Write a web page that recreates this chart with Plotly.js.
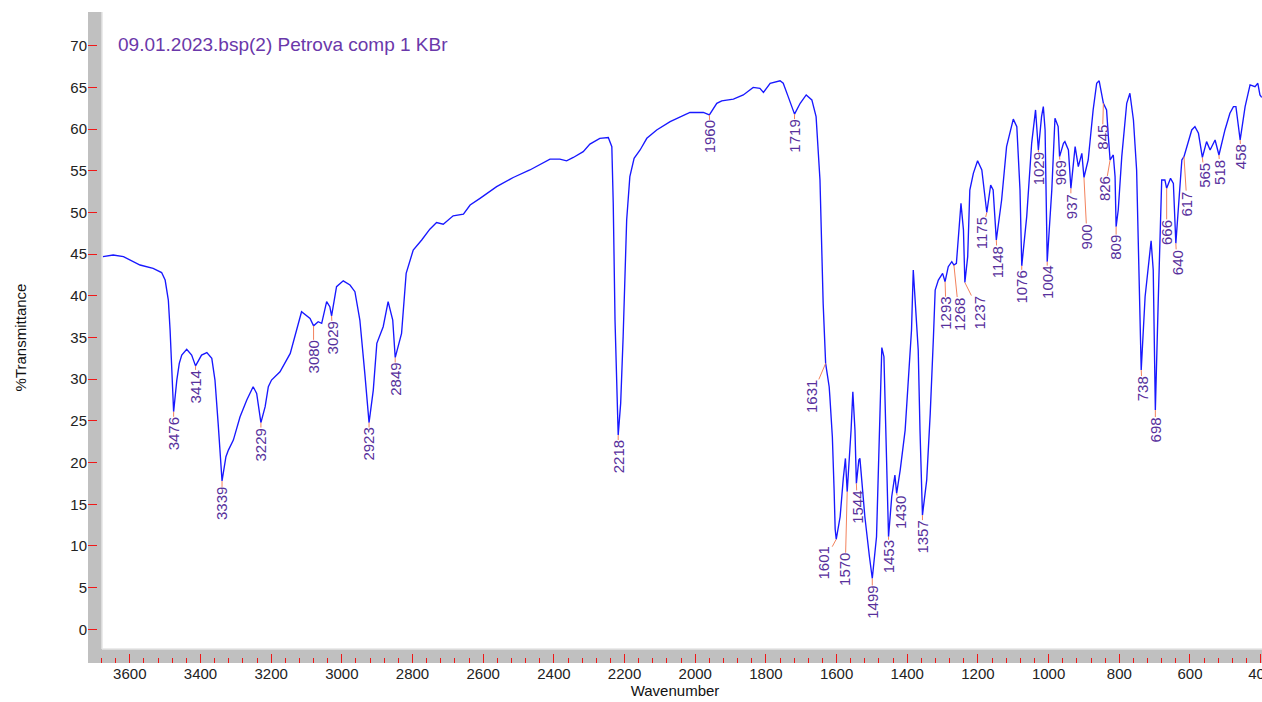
<!DOCTYPE html>
<html>
<head>
<meta charset="utf-8">
<script src="https://cdn.plot.ly/plotly-3.0.1.min.js"></script>
<style>html,body{margin:0;padding:0;background:#fff;}#chart{width:1262px;height:702px;}</style>
</head>
<body>
<div id="chart"></div>
<script>
// ---- data ----
const wavenumber = [3676,3647,3618,3571,3534,3510,3500,3491,3486,3479,3476,3467,3460,3453,3439,3425,3414,3397,3382,3368,3359,3350,3343,3339,3328,3321,3307,3288,3269,3251,3241,3234,3229,3217,3208,3199,3175,3146,3114,3090,3080,3067,3057,3043,3034,3029,3015,2996,2977,2963,2949,2935,2923,2911,2901,2883,2869,2856,2849,2831,2818,2798,2774,2751,2732,2713,2685,2656,2637,2609,2562,2515,2468,2411,2383,2364,2345,2317,2298,2270,2246,2236,2232,2227,2222,2218,2211,2204,2194,2185,2173,2156,2137,2109,2071,2015,1977,1960,1939,1925,1892,1864,1836,1817,1807,1788,1760,1751,1737,1719,1703,1686,1670,1658,1647,1638,1631,1621,1619,1612,1607,1604,1601,1590,1581,1575,1570,1564,1559,1554,1548,1544,1537,1534,1529,1520,1507,1499,1487,1479,1472,1466,1460,1456,1453,1444,1435,1430,1420,1406,1397,1388,1383,1369,1364,1357,1345,1335,1326,1321,1312,1300,1293,1284,1274,1268,1261,1253,1248,1241,1237,1229,1223,1213,1201,1189,1180,1175,1164,1157,1148,1133,1119,1100,1090,1081,1076,1062,1048,1037,1029,1020,1015,1010,1007,1004,991,982,973,969,958,954,944,937,925,916,906,900,888,874,864,857,845,836,831,826,817,812,809,803,793,779,770,760,751,743,738,727,718,710,704,698,690,680,671,666,655,647,640,630,623,617,605,595,586,576,565,553,543,529,518,501,487,477,470,458,444,430,416,408,402,397];
const transmittance = [44.7,44.9,44.7,43.7,43.3,42.8,41.9,39.5,35.9,29.5,26.1,29.9,31.9,32.9,33.6,32.9,31.6,32.9,33.2,32.5,29.9,24.7,20.7,17.8,20.7,21.5,22.7,25.5,27.5,29.1,28.3,26.3,24.8,26.7,29.1,29.9,30.9,33.1,38.1,37.3,36.4,36.9,36.7,39.3,38.7,37.6,41.1,41.8,41.3,40.5,37.1,30.7,24.8,28.7,34.3,36.3,39.3,37.1,32.6,35.5,42.7,45.5,46.7,48.0,48.8,48.6,49.6,49.8,50.9,51.7,53.1,54.2,55.1,56.4,56.4,56.2,56.6,57.3,58.2,58.9,59.0,57.9,51.1,37.1,29.9,23.3,27.1,35.1,49.1,54.3,56.5,57.5,58.9,59.9,60.9,62.0,62.0,61.7,63.1,63.4,63.6,64.1,65.0,64.9,64.4,65.5,65.8,65.5,63.9,61.8,63.1,64.1,63.5,61.5,53.9,39.1,31.9,29.1,27.9,23.1,16.7,12.0,10.8,13.5,18.1,20.5,16.5,19.9,23.9,28.5,23.9,17.5,20.3,20.5,17.9,13.5,8.7,6.1,11.1,23.9,33.8,32.7,23.9,17.1,11.1,15.9,18.5,16.3,19.1,23.9,30.7,35.9,43.1,33.5,23.9,13.7,17.9,25.9,35.0,40.7,41.9,42.7,41.7,43.5,44.1,43.7,43.9,47.9,51.1,47.9,41.6,44.7,52.7,54.7,56.2,55.1,51.9,50.0,53.3,52.7,46.7,51.5,57.9,61.2,60.3,52.7,43.6,49.5,58.3,62.3,57.5,61.5,62.7,59.9,52.0,44.1,52.7,61.3,60.3,56.7,58.3,58.5,57.5,52.9,57.9,55.5,57.1,54.2,56.3,62.3,65.5,65.8,63.1,62.3,59.1,56.3,56.9,54.3,48.3,50.3,56.7,63.1,64.3,61.1,55.1,39.5,31.1,39.9,43.1,46.6,43.1,26.3,39.1,53.9,53.9,52.9,54.1,53.5,46.3,52.3,56.3,56.7,58.3,59.9,60.3,59.5,56.6,58.5,57.5,58.7,56.9,59.9,61.9,62.7,62.7,58.7,62.7,65.3,65.1,65.5,64.1,63.8];
const peakWavenumbers = [3476,3414,3339,3229,3080,3029,2923,2849,2218,1960,1719,1631,1601,1570,1544,1499,1453,1430,1357,1293,1268,1237,1175,1148,1076,1029,1004,969,937,900,845,826,809,738,698,666,640,617,565,518,458];
const xTickValues = [3600,3400,3200,3000,2800,2600,2400,2200,2000,1800,1600,1400,1200,1000,800,600,400];
const yTickValues = [0,5,10,15,20,25,30,35,40,45,50,55,60,65,70];
const chartTitle = "09.01.2023.bsp(2) Petrova comp 1 KBr";

// ---- styling (label placement in pixels relative to each peak) ----
const labelOffset = {3476:[0,22],3414:[0,21],3339:[0,23],3229:[0,22],3080:[0,31],3029:[1,22],2923:[0,22],2849:[0,22],2218:[0,22],1960:[1,22],1719:[0,22],1631:[-14,33],1601:[-13,24],1570:[-2,78],1544:[1,24],1499:[0,24],1453:[0,20],1430:[4,19],1357:[0,22],1293:[1,32],1268:[5,49],1237:[15,30],1175:[-5,21],1148:[1,22],1076:[0,21],1029:[1,19],1004:[0,21],969:[1,16],937:[0,18],900:[3,59],845:[-1,34],826:[-5,29],809:[0,21],738:[1,19],698:[0,20],666:[0,44],640:[1,19],617:[3,47],565:[2,18],518:[1,17],458:[1,17]};

const W = 1262, H = 702;
const M = {l: 88, r: 0, t: 12, b: 39};
const plotW = W - M.l - M.r, plotH = H - M.t - M.b;
const BAND = 14;            // grey frame thickness (px)
const FONT = "Liberation Sans, Arial, sans-serif";
const RED = "#f01818";
const LABEL_COLOR = "#57309c";

const trace = {
  x: wavenumber, y: transmittance, type: "scatter", mode: "lines",
  line: {color: "#1818ff", width: 1.35}, hoverinfo: "x+y"
};

const annotations = peakWavenumbers.map(p => {
  const o = labelOffset[p] || [0, 22];
  return {
    x: p, y: transmittance[wavenumber.indexOf(p)], xref: "x", yref: "y",
    text: String(p), textangle: -90, showarrow: true, arrowhead: 0,
    arrowwidth: 1, arrowcolor: "#f3825c", standoff: 0, startstandoff: 0,
    ax: o[0], ay: o[1], borderpad: 0,
    font: {family: FONT, size: 15, color: LABEL_COLOR}
  };
});

const shapes = [
  {type: "rect", xref: "paper", yref: "paper", x0: 0, x1: BAND / plotW, y0: 0, y1: 1,
   fillcolor: "#c0c0c0", line: {width: 0}, layer: "below"},
  {type: "rect", xref: "paper", yref: "paper", x0: 0, x1: 1, y0: 0, y1: BAND / plotH,
   fillcolor: "#c0c0c0", line: {width: 0}, layer: "below"},
  {type: "line", xref: "paper", yref: "paper", x0: BAND / plotW, x1: BAND / plotW, y0: BAND / plotH, y1: 1,
   line: {color: "#e4e4e4", width: 1.5}, layer: "below"},
  {type: "line", xref: "paper", yref: "paper", x0: BAND / plotW, x1: 1, y0: BAND / plotH, y1: BAND / plotH,
   line: {color: "#e4e4e4", width: 1.5}, layer: "below"}
];

const layout = {
  width: W, height: H, margin: M,
  paper_bgcolor: "#ffffff", plot_bgcolor: "#ffffff",
  showlegend: false,
  font: {family: FONT, size: 15, color: "#222"},
  title: {text: chartTitle, x: 118 / W, xanchor: "left", xref: "container",
          y: 1 - 44 / H, yanchor: "middle", yref: "container",
          font: {family: FONT, size: 19, color: "#6a38aa"}},
  xaxis: {
    range: [3718.3, 396.2], autorange: false,
    tickmode: "array", tickvals: xTickValues, ticktext: xTickValues.map(String),
    ticklabeloverflow: "allow",
    ticks: "inside", ticklen: 9, tickwidth: 1, tickcolor: RED,
    minor: {dtick: 40, tick0: 0, ticks: "inside", ticklen: 5, tickwidth: 1, tickcolor: RED, showgrid: false},
    showgrid: false, zeroline: false, showline: false,
    tickfont: {family: FONT, size: 15, color: "#222"},
    title: {text: "Wavenumber", font: {family: FONT, size: 15, color: "#111"}, standoff: 2}
  },
  yaxis: {
    range: [-4.04, 74.05], autorange: false,
    tickmode: "array", tickvals: yTickValues, ticktext: yTickValues.map(String),
    ticks: "inside", ticklen: 9, tickwidth: 1, tickcolor: RED,
    showgrid: false, zeroline: false, showline: false,
    tickfont: {family: FONT, size: 15, color: "#222"},
    title: {text: "%Transmittance", font: {family: FONT, size: 15, color: "#111"}, standoff: 40}
  },
  shapes: shapes,
  annotations: annotations
};

Plotly.newPlot("chart", [trace], layout, {displayModeBar: false, staticPlot: true});
</script>
</body>
</html>
